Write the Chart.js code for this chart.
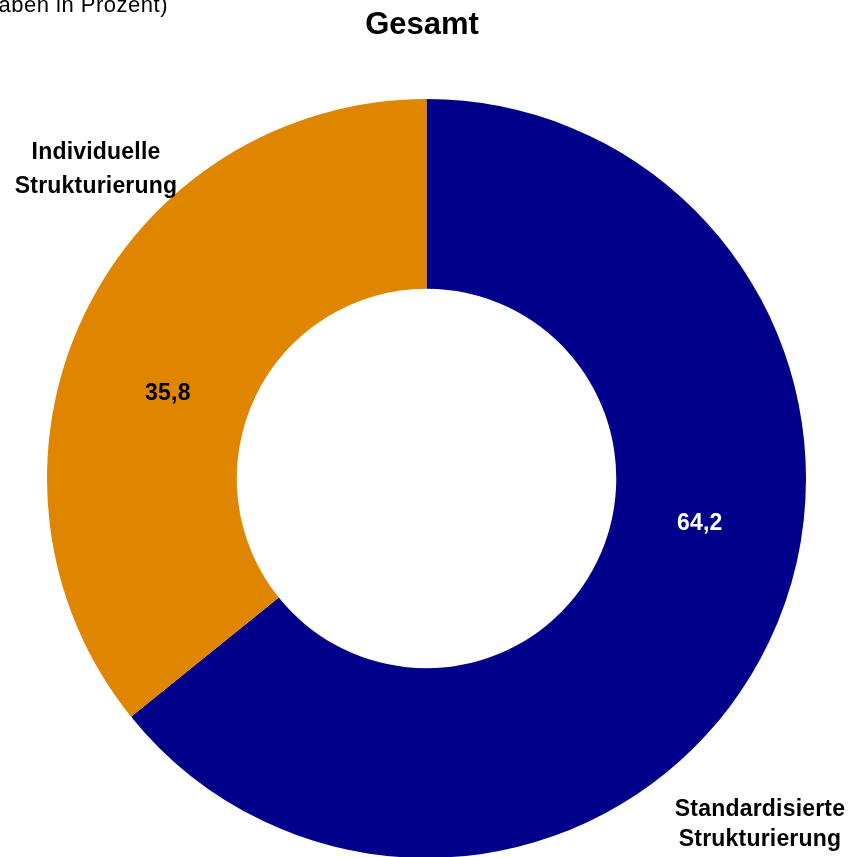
<!DOCTYPE html>
<html>
<head>
<meta charset="utf-8">
<title>Gesamt</title>
<script src="https://cdn.jsdelivr.net/npm/chart.js@4.4.1/dist/chart.umd.min.js"></script>
<style>
    html, body { margin: 0; padding: 0; background: #fff; overflow: hidden; }
    #wrap { position: absolute; left: 0; top: 0; width: 852px; height: 900px; }
</style>
</head>
<body>
<div id="wrap"><canvas id="pieChart" width="852" height="900"></canvas></div>
<script>
const categories = ['Standardisierte Strukturierung', 'Individuelle Strukturierung'];
const shares = [64.2, 35.8];
const sliceColors = ['#00008B', '#E08500'];
const valueColors = ['#ffffff', '#000000'];
const chartTitle = 'Gesamt';
const unitNote = '(Angaben in Prozent)';

// where the value sits inside its slice: share of the sweep, share of the ring width
const valueAngleFrac = [0.43, 0.443];
const valueRadiusFrac = [0.46, 0.435];

const fmt = v => v.toFixed(1).replace('.', ',');

const labelPlugin = {
    id: 'labels',
    afterDraw(chart) {
        const ctx = chart.ctx;
        const meta = chart.getDatasetMeta(0);
        ctx.save();
        ctx.textBaseline = 'alphabetic';

        // unit note, partly outside the left edge
        ctx.font = '22px "Liberation Sans", Arial, sans-serif';
        ctx.letterSpacing = '0.5px';
        ctx.fillStyle = '#000';
        ctx.textAlign = 'right';
        ctx.fillText(unitNote, 168, 12);

        ctx.font = 'bold 31px "Liberation Sans", Arial, sans-serif';
        ctx.letterSpacing = '0px';
        ctx.textAlign = 'center';
        ctx.fillText(chartTitle, 422, 34);

        ctx.font = 'bold 23px "Liberation Sans", Arial, sans-serif';
        ctx.letterSpacing = '0.2px';
        ctx.textBaseline = 'middle';
        meta.data.forEach((arc, i) => {
            const a = arc.startAngle + (arc.endAngle - arc.startAngle) * valueAngleFrac[i];
            const r = arc.innerRadius + (arc.outerRadius - arc.innerRadius) * valueRadiusFrac[i];
            ctx.fillStyle = valueColors[i];
            ctx.fillText(fmt(shares[i]), arc.x + Math.cos(a) * r, arc.y + Math.sin(a) * r);
        });

        // category names outside the ring
        ctx.fillStyle = '#000';
        ctx.textBaseline = 'alphabetic';
        const names = categories.map(c => c.split(' '));
        ctx.fillText(names[1][0], 96, 159);
        ctx.fillText(names[1][1], 96, 193);
        ctx.fillText(names[0][0], 760, 816);
        ctx.fillText(names[0][1], 760, 846);
        ctx.restore();
    }
};

const ctx = document.getElementById('pieChart').getContext('2d');
new Chart(ctx, {
    type: 'doughnut',
    data: {
        labels: categories,
        datasets: [{
            data: shares,
            backgroundColor: sliceColors,
            borderWidth: 0,
            hoverOffset: 0
        }]
    },
    options: {
        responsive: false,
        animation: false,
        cutout: '50%',
        rotation: 0,
        layout: {
            padding: { left: 47, right: 46, top: 99, bottom: 42 }
        },
        plugins: {
            legend: { display: false },
            tooltip: { enabled: false }
        }
    },
    plugins: [labelPlugin]
});
</script>
</body>
</html>
